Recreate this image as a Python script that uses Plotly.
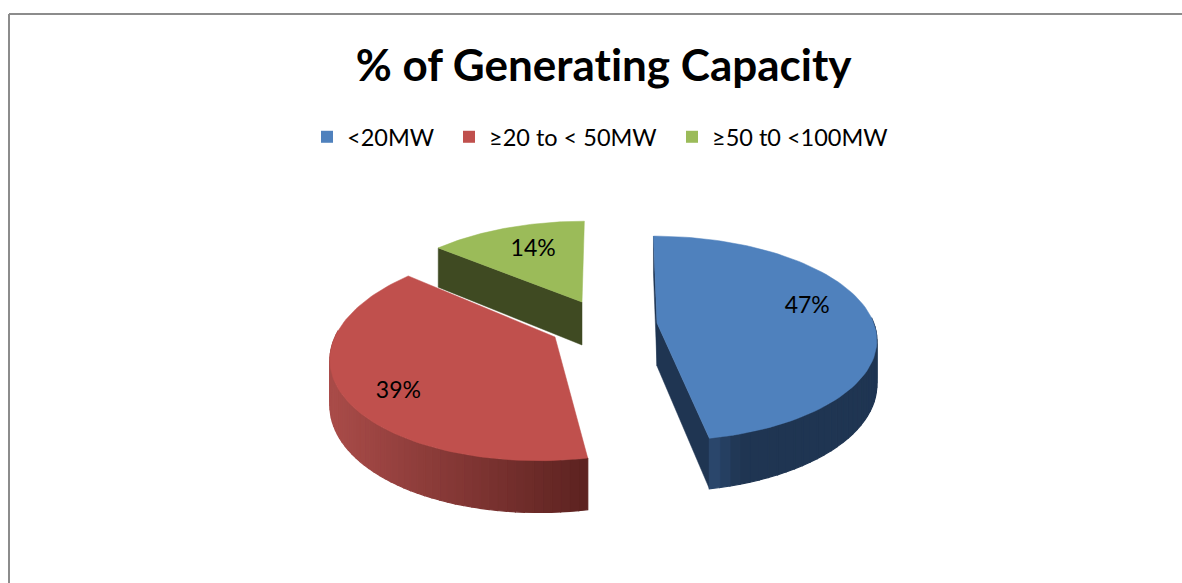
import math
import plotly.graph_objects as go

# ---- data ----
title_text = "% of Generating Capacity"
categories = ["<20MW", "≥20 to < 50MW", "≥50 t0 <100MW"]
values = [47, 39, 14]
labels = ["47%", "39%", "14%"]

# ---- style ----
top_colors = ["#4F81BD", "#C0504D", "#9BBB59"]
wall_from = [(44, 74, 112), (168, 75, 72), (63, 74, 34)]
wall_to = [(31, 53, 82), (92, 34, 32), (63, 74, 34)]
cut_colors = ["#1F3552", "#5C2220", "#3F4A22"]
apex = [(657, 323), (555, 337), (582, 302)]
scale_x = [0.985, 1.0, 0.94]
scale_y = [1.0, 1.05, 0.93]
vanish = [630, 645, 600]
depth = [43, 44, 43]
label_r = [0.70, 0.72, 0.66]
label_dx = [1, -7, 3]
label_dy = [-9, 15, -1]
legend_text_x = [347, 489, 712]
RX, RY, K = 220, 100, 0.151
FONT = "Lato, Carlito, sans-serif"


def project(i, u, v, drop=0.0):
    ax, ay = apex[i]
    w = 1 + K * v
    x = vanish[i] + (ax - vanish[i] + RX * scale_x[i] * u) / w
    y = ay + (-RY * scale_y[i] * v + drop) / w
    return x, y


def at_angle(i, deg, r=1.0, drop=0.0):
    a = math.radians(deg)
    return project(i, r * math.sin(a), r * math.cos(a), drop)


def rgb(c):
    return "rgb(%d,%d,%d)" % tuple(round(p) for p in c)


fig = go.Figure()
total = sum(values)
spans = []
start = 0.0
for v in values:
    spans.append((start, start + 360.0 * v / total))
    start = spans[-1][1]


def poly(points, color, width=0.5):
    xs = [p[0] for p in points] + [points[0][0]]
    ys = [p[1] for p in points] + [points[0][1]]
    fig.add_trace(go.Scatter(
        x=xs, y=ys, mode="lines", fill="toself", fillcolor=color,
        line=dict(color=color, width=width),
        showlegend=False, hoverinfo="skip"))


# flat cut faces that can be seen: both edges of the blue slice, left edge of the green one
for i, deg in [(0, spans[0][0]), (0, spans[0][1]), (2, spans[2][0])]:
    ap = project(i, 0, 0)
    ap_low = project(i, 0, 0, depth[i])
    poly([ap, at_angle(i, deg), at_angle(i, deg, drop=depth[i]), ap_low], cut_colors[i])

# curved outer walls, shaded in narrow strips
for i in [0, 1]:
    a0, a1 = spans[i]
    n = 70
    for j in range(n):
        d0 = a0 + (a1 - a0) * j / n
        d1 = a0 + (a1 - a0) * (j + 1) / n
        if math.cos(math.radians((d0 + d1) / 2)) > 0.05:
            continue
        xm = at_angle(i, (d0 + d1) / 2)[0]
        if i == 0:
            front = at_angle(i, a1)[0]
            t = (xm - front) / 30
        else:
            left = project(i, -1, 0)[0]
            t = (xm - left) / (at_angle(i, a0)[0] - left)
        t = min(1, max(0, t))
        col = [wall_from[i][c] + (wall_to[i][c] - wall_from[i][c]) * t for c in range(3)]
        poly([at_angle(i, d0), at_angle(i, d1),
              at_angle(i, d1, drop=depth[i]), at_angle(i, d0, drop=depth[i])], rgb(col), 1.2)

# top faces
for i in [2, 0, 1]:
    a0, a1 = spans[i]
    n = 90
    rim = [at_angle(i, a0 + (a1 - a0) * j / n) for j in range(n + 1)]
    poly([project(i, 0, 0)] + rim, top_colors[i])

# data labels
for i, (a0, a1) in enumerate(spans):
    x, y = at_angle(i, (a0 + a1) / 2, label_r[i])
    fig.add_trace(go.Scatter(
        x=[x + label_dx[i]], y=[y + label_dy[i]], mode="text", text=[labels[i]],
        textposition="middle center",
        textfont=dict(family=FONT, size=23, color="#000000"),
        showlegend=False, hoverinfo="skip"))

# legend entries, one small legend each so that the gaps can match
legend_ids = ["legend", "legend2", "legend3"]
legend_layout = {}
for i, name in enumerate(categories):
    fig.add_trace(go.Scatter(
        x=[None], y=[None], mode="markers", name=name, legend=legend_ids[i],
        marker=dict(symbol="square", size=15, color=top_colors[i])))
    legend_layout[legend_ids[i]] = dict(
        x=(legend_text_x[i] - 40) / 1182, xanchor="left", y=0.765, yanchor="middle",
        font=dict(family=FONT, size=23.5, color="#000000"),
        itemsizing="constant", bgcolor="rgba(0,0,0,0)")

fig.update_layout(
    width=1182, height=583,
    margin=dict(l=0, r=0, t=0, b=0),
    paper_bgcolor="#FFFFFF", plot_bgcolor="#FFFFFF",
    title=dict(text="<b>%s</b>" % title_text, x=0.5107, xanchor="center",
               y=0.887, yanchor="middle",
               font=dict(family=FONT, size=44, color="#000000")),
    xaxis=dict(range=[0, 1182], visible=False, fixedrange=True),
    yaxis=dict(range=[583, 0], visible=False, fixedrange=True),
    shapes=[
        dict(type="line", xref="x", yref="y", x0=9, x1=1182, y0=14, y1=14,
             line=dict(color="#8C8C8C", width=2)),
        dict(type="line", xref="x", yref="y", x0=9, x1=9, y0=14, y1=583,
             line=dict(color="#8C8C8C", width=2)),
    ],
    showlegend=True,
    **legend_layout,
)

fig.write_html(
    "out.html",
    config={"displayModeBar": False},
    post_script=(
        "document.body.style.margin='0';document.body.style.overflow='hidden';"
        "var s=document.createElement('style');"
        "s.textContent='svg text{font-variant-ligatures:none !important;"
        "font-feature-settings:\"liga\" 0,\"clig\" 0 !important;text-rendering:optimizeSpeed !important}';"
        "document.head.appendChild(s);"
    ),
)
